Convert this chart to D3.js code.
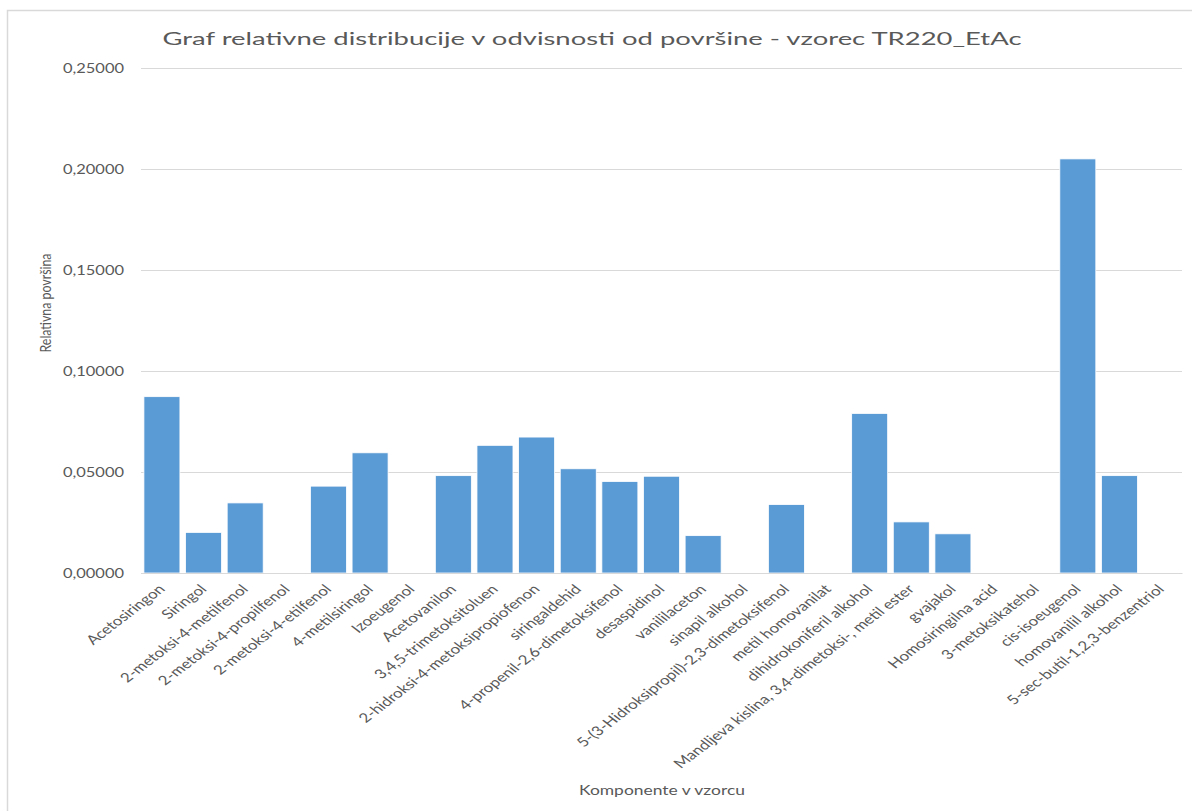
<!DOCTYPE html>
<html>
<head>
<meta charset="utf-8">
<script src="https://cdn.jsdelivr.net/npm/d3@7"></script>
<style>
  html, body { margin: 0; padding: 0; background: #ffffff; }
  svg { display: block; }
  text { font-family: Lato, "Open Sans", sans-serif; fill: #595959; }
</style>
</head>
<body>
<svg id="chart" width="1192" height="811"></svg>
<script>
// Components of sample TR220_EtAc and their relative peak area
const categories = [
  "Acetosiringon",
  "Siringol",
  "2-metoksi-4-metilfenol",
  "2-metoksi-4-propilfenol",
  "2-metoksi-4-etilfenol",
  "4-metilsiringol",
  "Izoeugenol",
  "Acetovanilon",
  "3,4,5-trimetoksitoluen",
  "2-hidroksi-4-metoksipropiofenon",
  "siringaldehid",
  "4-propenil-2,6-dimetoksifenol",
  "desaspidinol",
  "vanililaceton",
  "sinapil alkohol",
  "5-(3-Hidroksipropil)-2,3-dimetoksifenol",
  "metil homovanilat",
  "dihidrokoniferil alkohol",
  "Mandljeva kislina, 3,4-dimetoksi-, metil ester",
  "gvajakol",
  "Homosiringilna acid",
  "3-metoksikatehol",
  "cis-isoeugenol",
  "homovanilil alkohol",
  "5-sec-butil-1,2,3-benzentriol"
];

const values = [
  0.0873, 0.0201, 0.0347, 0.0000, 0.0430,
  0.0595, 0.0000, 0.0482, 0.0632, 0.0673,
  0.0516, 0.0453, 0.0479, 0.0185, 0.0000,
  0.0339, 0.0000, 0.0790, 0.0253, 0.0194,
  0.0000, 0.0000, 0.2050, 0.0482, 0.0000
];

const yTicks = [0, 0.05, 0.10, 0.15, 0.20, 0.25];
const yTickLabels = ["0,00000", "0,05000", "0,10000", "0,15000", "0,20000", "0,25000"];

const chartTitle = "Graf relativne distribucije v odvisnosti od površine - vzorec TR220_EtAc";
const xTitle = "Komponente v vzorcu";
const yTitle = "Relativna površina";

// Layout
const plot = { left: 141, right: 1182, top: 68, bottom: 573 };
const stretch = 1.31;           // horizontal widening of the text glyphs
const barColor = "#5b9bd5";
const gridColor = "#d9d9d9";

const svg = d3.select("#chart");

// Outer chart frame
svg.append("rect")
  .attr("x", 7.5).attr("y", 10.5)
  .attr("width", 1300).attr("height", 900)
  .attr("fill", "#ffffff")
  .attr("stroke", gridColor)
  .attr("stroke-width", 1.5);

const x = d3.scaleBand()
  .domain(categories)
  .range([plot.left, plot.right])
  .paddingInner(0.135)
  .paddingOuter(0.07);

const y = d3.scaleLinear()
  .domain([0, 0.25])
  .range([plot.bottom, plot.top]);

// Horizontal gridlines
const grid = svg.append("g")
  .attr("transform", `translate(${plot.left},0)`)
  .call(d3.axisLeft(y).tickValues(yTicks).tickSize(-(plot.right - plot.left)).tickFormat(""));
grid.select(".domain").remove();
grid.selectAll(".tick line").attr("stroke", gridColor).attr("stroke-width", 1);

// Y tick labels
const yAxis = svg.append("g")
  .attr("transform", `translate(${plot.left},0)`)
  .call(d3.axisLeft(y).tickValues(yTicks).tickSize(0).tickPadding(17)
    .tickFormat((d, i) => yTickLabels[i]));
yAxis.select(".domain").remove();
yAxis.selectAll(".tick text")
  .attr("font-size", 12.6)
  .attr("fill", "#595959")
  .attr("font-family", "Lato, sans-serif")
  .attr("textLength", 61)
  .attr("lengthAdjust", "spacingAndGlyphs");

// Bars
svg.append("g")
  .selectAll("rect")
  .data(categories.map((c, i) => ({ c, v: values[i] })))
  .join("rect")
  .attr("x", d => x(d.c))
  .attr("y", d => y(d.v))
  .attr("width", x.bandwidth())
  .attr("height", d => y(0) - y(d.v))
  .attr("fill", barColor)
  .attr("stroke", "#ffffff")
  .attr("stroke-width", 0.8)
  .attr("display", d => d.v > 0 ? null : "none");

// X axis line and category labels
const xAxis = svg.append("g")
  .attr("transform", `translate(0,${plot.bottom})`)
  .call(d3.axisBottom(x).tickSize(0).tickFormat(""));
xAxis.select(".domain").attr("stroke", gridColor).attr("stroke-width", 1.2);

svg.append("g")
  .selectAll("text")
  .data(categories)
  .join("text")
  .attr("transform", d => `translate(${x(d) + x.bandwidth() / 2 + 4},${plot.bottom + 17}) scale(${stretch},1) rotate(-45)`)
  .attr("text-anchor", "end")
  .attr("font-size", 13)
  .text(d => d);

// Chart title
svg.append("text")
  .attr("x", 592)
  .attr("y", 45)
  .attr("text-anchor", "middle")
  .attr("font-size", 17)
  .attr("textLength", 859)
  .attr("lengthAdjust", "spacingAndGlyphs")
  .text(chartTitle);

// Axis titles
svg.append("text")
  .attr("x", 662)
  .attr("y", 795)
  .attr("text-anchor", "middle")
  .attr("font-size", 13)
  .attr("textLength", 166)
  .attr("lengthAdjust", "spacingAndGlyphs")
  .text(xTitle);

svg.append("text")
  .attr("transform", `translate(51,303) scale(${stretch},1) rotate(-90)`)
  .attr("text-anchor", "middle")
  .attr("font-size", 12)
  .attr("textLength", 99)
  .attr("lengthAdjust", "spacingAndGlyphs")
  .text(yTitle);
</script>
</body>
</html>
